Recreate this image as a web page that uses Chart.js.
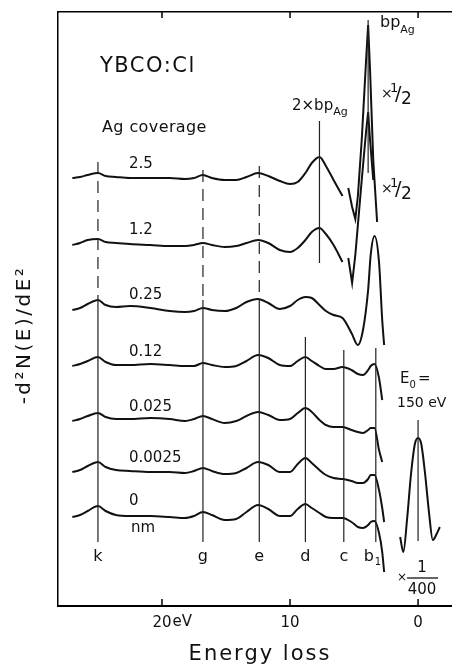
<!DOCTYPE html>
<html>
<head>
<meta charset="utf-8">
<script src="https://cdn.jsdelivr.net/npm/chart.js@4.4.1/dist/chart.umd.min.js"></script>
<style>
  html, body { margin: 0; padding: 0; background: #fff; }
</style>
</head>
<body>
<canvas id="eels" width="452" height="669"></canvas>
<script>
// energy loss grid (eV) shared by all spectra
const energy = [27.0, 26.4, 25.8, 25.0, 24.4, 23.6, 22.5, 20.9, 19.4, 18.2, 17.5, 16.8, 16.1, 15.1, 14.2, 13.4, 12.5, 11.7,
  10.8, 10.0, 9.4, 8.8, 8.3, 7.7, 7.2, 6.6, 5.9, 5.2, 4.7, 4.3, 3.9, 3.7, 3.4, 3.05, 2.8, 2.65];

// Ag coverage (nm) of each spectrum, top to bottom, and its vertical offset
const coverage = ['2.5', '1.2', '0.25', '0.12', '0.025', '0.0025', '0'];
const offsets = [428, 362, 297, 240, 185, 134, 89];

// -d2N/dE2 (arb. units) relative to each offset
const cov25 = [0, 1, 3, 5, 2, 1, 0, 0, 0, -1, 0, 3, 0, -2, -2, 1, 5, 2, -3, -6, -4, 5, 15, 21, 12, -2, -18,
  null, null, null, null, null, null, null, null, null];
const cov12 = [-1, 1, 4, 5, 2, 1, 0, -1, -2, -2, -1, 1, -1, -3, -2, 1, 4, 1, -6, -8, -4, 4, 12, 16, 10, -1, -18,
  null, null, null, null, null, null, null, null, null];
const cov025 = [-1, 1, 5, 9, 4, 2, 3, 1, -2, -3, -2, 1, -1, -2, 1, 7, 10, 6, 0, 3, 9, 12, 11, 4, -2, -6, -9,
  -24, -36, -21, 19, 54, 73, 47, -11, -36];
const cov012 = [0, 2, 5, 9, 4, 1, 1, 2, 1, 0, 0, 3, 1, -1, 0, 5, 11, 8, 1, 0, 5, 9, 5, 0, -3, -3, -1,
  -4, -8, -9, -4, 0, 2, -12, -34, null];
const cov0025 = [0, 2, 5, 8, 4, 2, 2, 3, 2, 0, 2, 5, 2, -2, 0, 5, 9, 6, 1, 2, 8, 13, 9, 1, -4, -6, -6,
  -9, -11, -12, -9, -7, -7, -29, -41, null];
const cov00025 = [0, 2, 6, 10, 5, 2, 1, 0, 0, -1, 1, 4, 1, -2, -1, 4, 10, 7, 0, 0, 8, 14, 9, 2, -3, -6, -7,
  -9, -11, -11, -7, -3, -3, -18, -36, -50];
const cov0 = [0, 2, 6, 11, 6, 2, 1, 1, 0, -1, 1, 5, 2, -3, -2, 5, 12, 8, 1, 1, 8, 13, 9, 4, 0, -1, -1,
  -5, -10, -11, -8, -5, -4, -16, -35, -55];

// Ag bulk plasmon part (x1/2) of the two thickest films
const bpEnergy = [5.45, 5.15, 4.9, 4.7, 4.4, 4.05, 3.9, 3.75, 3.5, 3.2];
const bp25 = [-10, -29, -41, -18, 38, 120, 153, 108, 18, -44];
const bp12 = [-14, -39, -11, 19, 64, 114, 132, 104, 64, null];

// elastic peak (x1/400)
const elasticEnergy = [1.4, 1.15, 0.85, 0.55, 0.25, 0, -0.25, -0.55, -0.85, -1.15, -1.45, -1.7];
const elastic = [-7, -22, 12, 56, 86, 92, 86, 56, 18, -10, -4, 3];
const elasticOffset = 76;

// loss features
const markerLabels = ['k', 'g', 'e', 'd', 'c', 'b'];
const markerEnergy = [25.0, 16.8, 12.4, 8.8, 5.8, 3.3];
const bpAg = 3.9;
const twoBpAg = 7.7;

const xTicks = [20, 10, 0];

const FONT = '"DejaVu Sans"';
const INK = '#111';

function toPoints(xs, ys, off) {
  return xs.map((x, i) => ({ x: x, y: ys[i] === null ? null : off + ys[i] }));
}

function vline(e, from, to, dash) {
  return {
    data: [{ x: e, y: from }, { x: e, y: to }],
    borderColor: '#222', borderWidth: 1.2, borderDash: dash || [],
    pointRadius: 0, showLine: true, tension: 0
  };
}

const datasets = [];

// vertical guide lines
markerEnergy.forEach((e, i) => {
  if (i < 3) {
    const top = [444, 436, 440][i];
    datasets.push(vline(e, top, 306, [12, 7]));
    datasets.push(vline(e, 306, 64));
  } else {
    datasets.push(vline(e, [269, 256, 258][i - 3], 64));
  }
});
datasets.push(vline(bpAg, 586, 433));
datasets.push(vline(twoBpAg, 485, 343));
datasets.push(vline(0, 186, 65));

const curves = [cov25, cov12, cov025, cov012, cov0025, cov00025, cov0];
curves.forEach((vals, i) => {
  datasets.push({
    label: coverage[i] + ' nm',
    data: toPoints(energy, vals, offsets[i]),
    borderColor: INK, borderWidth: 2, pointRadius: 0, showLine: true,
    cubicInterpolationMode: 'monotone', spanGaps: false
  });
});
[[bp25, offsets[0]], [bp12, offsets[1]]].forEach(([vals, off]) => {
  datasets.push({
    data: toPoints(bpEnergy, vals, off),
    borderColor: INK, borderWidth: 2, pointRadius: 0, showLine: true, tension: 0, spanGaps: false
  });
});
datasets.push({
  data: toPoints(elasticEnergy, elastic, elasticOffset),
  borderColor: INK, borderWidth: 2, pointRadius: 0, showLine: true, cubicInterpolationMode: 'monotone'
});

function text(ctx, s, x, y, size, align, spacing) {
  ctx.save();
  ctx.font = size + 'px ' + FONT;
  ctx.fillStyle = INK;
  ctx.textAlign = align || 'left';
  ctx.textBaseline = 'middle';
  if (spacing) ctx.letterSpacing = spacing + 'px';
  ctx.fillText(s, x, y);
  const w = ctx.measureText(s).width;
  ctx.restore();
  return w;
}

function withSub(ctx, main, sub, x, y, size, subSize) {
  const w = text(ctx, main, x, y, size);
  text(ctx, sub, x + w, y + size * 0.42, subSize);
}

function half(ctx, x, y) {
  text(ctx, '×', x, y, 14);
  text(ctx, '1', x + 9, y - 5, 13);
  text(ctx, '/', x + 14, y + 1, 19);
  text(ctx, '2', x + 20, y + 6, 17);
}

const annotations = {
  id: 'annotations',
  afterDraw(chart) {
    const { ctx, chartArea: a } = chart;
    const sx = chart.scales.x, sy = chart.scales.y;

    // inward tick marks on top and bottom frame
    ctx.save();
    ctx.strokeStyle = '#000';
    ctx.lineWidth = 1.5;
    xTicks.forEach(v => {
      const x = sx.getPixelForValue(v);
      ctx.beginPath();
      ctx.moveTo(x, a.bottom); ctx.lineTo(x, a.bottom - 7);
      ctx.moveTo(x, a.top); ctx.lineTo(x, a.top + 6);
      ctx.stroke();
    });
    ctx.restore();

    // unit after the first tick label
    ctx.save();
    ctx.font = '15px ' + FONT;
    const w20 = ctx.measureText('20').width;
    ctx.restore();
    text(ctx, 'eV', sx.getPixelForValue(20) + w20 / 2 + 1, 622, 15);

    text(ctx, 'YBCO:Cl', 100, 67, 21, 'left', 1.5);
    text(ctx, 'Ag coverage', 102, 128, 16, 'left', 0.4);

    coverage.forEach((c, i) => {
      text(ctx, c, 129, sy.getPixelForValue(offsets[i]) + (i === 6 ? -16 : -14), 15);
    });
    text(ctx, 'nm', 131, 528, 15);

    withSub(ctx, '2×bp', 'Ag', 292, 106, 15, 11);
    withSub(ctx, 'bp', 'Ag', 380, 23, 16, 11);
    half(ctx, 381, 94);
    half(ctx, 381, 189);

    // loss feature letters
    markerEnergy.forEach((e, i) => {
      const x = sx.getPixelForValue(e);
      if (markerLabels[i] === 'b') {
        text(ctx, 'b', x - 7, 557, 16, 'center');
        text(ctx, '1', x - 1, 562, 10);
      } else {
        text(ctx, markerLabels[i], x, 557, 16, 'center');
      }
    });

    // primary energy
    withSub(ctx, 'E', '0', 400, 379, 15, 10);
    text(ctx, '=', 418, 379, 15);
    text(ctx, '150 eV', 397, 403, 14);
    const x0 = sx.getPixelForValue(0);
    text(ctx, '×', 397, 578, 12);
    text(ctx, '1', x0 + 4, 568, 15, 'center');
    ctx.save();
    ctx.strokeStyle = INK; ctx.lineWidth = 1.3;
    ctx.beginPath(); ctx.moveTo(x0 - 11, 578); ctx.lineTo(x0 + 20, 578); ctx.stroke();
    ctx.restore();
    text(ctx, '400', x0 + 4, 590, 15, 'center');

    // axis titles
    text(ctx, 'Energy loss', 260, 655, 21, 'center', 2);
    ctx.save();
    ctx.translate(25, 335);
    ctx.rotate(-Math.PI / 2);
    text(ctx, '-d²N(E)/dE²', 0, 0, 20, 'center', 2.5);
    ctx.restore();
  }
};

new Chart(document.getElementById('eels'), {
  type: 'scatter',
  data: { datasets: datasets },
  plugins: [annotations],
  options: {
    responsive: false,
    animation: false,
    events: [],
    layout: { padding: 0 },
    plugins: { legend: { display: false }, tooltip: { enabled: false } },
    scales: {
      x: {
        type: 'linear', position: 'bottom', reverse: true, min: -2.65, max: 28.12,
        grid: { display: false, drawTicks: false },
        border: { display: true, color: '#000', width: 2 },
        ticks: { color: INK, font: { family: FONT, size: 15 }, padding: 8, maxRotation: 0, autoSkip: false },
        afterBuildTicks: s => { s.ticks = xTicks.map(v => ({ value: v })); },
        afterFit: s => { s.height = 63; }
      },
      xTop: {
        type: 'linear', position: 'top', reverse: true, min: -2.65, max: 28.12,
        grid: { display: false, drawTicks: false },
        border: { display: true, color: '#000', width: 1.5 },
        ticks: { display: false },
        afterFit: s => { s.height = 12; }
      },
      y: {
        min: 0, max: 594,
        grid: { display: false, drawTicks: false },
        border: { display: true, color: '#000', width: 1.5 },
        ticks: { display: false },
        afterFit: s => { s.width = 58; }
      }
    }
  }
});
</script>
</body>
</html>
